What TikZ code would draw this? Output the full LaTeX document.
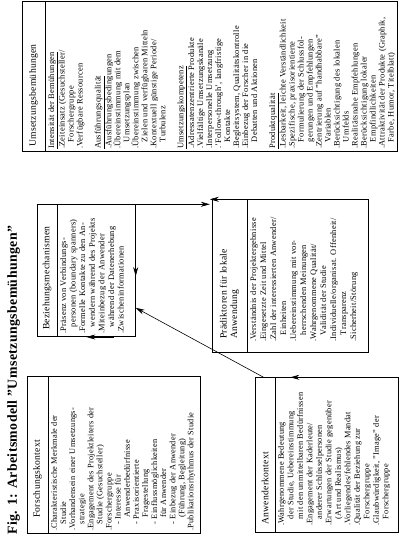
\documentclass[tikz,border=0pt]{standalone}
\usepackage{fontspec}
\setmainfont{Liberation Serif}[LetterSpace=3]
\usetikzlibrary{arrows.meta,calc}
\newcommand{\ind}{\hspace*{0.8em}}
\begin{document}
\begin{tikzpicture}[x=1pt,y=1pt,
  box/.style={draw, line width=0.7pt, anchor=north west, inner sep=0pt, rectangle},
  hdr/.style={font=\fontsize{9.6}{10.5}\selectfont, anchor=west, align=left, inner sep=0pt},
  body/.style={anchor=north west, align=left, inner sep=0pt},
  arr/.style={-{Stealth[length=9pt,width=5pt]}, line width=0.6pt},
  ttl/.style={font=\fontsize{13.8}{16}\selectfont\bfseries, anchor=west, inner sep=0pt}]
\useasboundingbox (0,0) rectangle (407,539);
\begin{scope}[rotate=90, transform shape]
\node[ttl] (title) at (4,-13.5) {Fig. 1: Arbeitsmodell "Umsetzungsbemühungen"};
% Forschungskontext
\node[box, minimum width=157, minimum height=173] (fk) at (5,-27) {};
\node[hdr] (fkh) at (21,-37.5) {Forschungskontext};
\draw[line width=0.7pt] (5,-48) -- (162,-48);
\node[body, font=\fontsize{8.3}{9.1}\selectfont] (fkb) at (8,-51) {%
.Charakteristische Merkmale der\\
\ind Studie\\
.Vorhandensein einer Umsetzungs-\\
\ind strategie\\
.Engagement des Projektleiters der\\
\ind Studie (Gesuchsteller)\\
.Forschergruppe\\
\ind - Interesse für\\
\ind\ind Anwenderbedürfnisse\\
\ind - Praxisorientierte\\
\ind\ind Fragestellung\\
\ind - Einflussmöglichkeiten\\
\ind\ind für Anwender\\
\ind - Einbezug der Anwender\\
\ind\ind (Führung, Begleitung)\\
.Publikationsrhythmus der Studie};
% Beziehungsmechanismen
\node[box, minimum width=132, minimum height=98] (bm) at (202,-37) {};
\node[hdr] (bmh) at (209,-47) {Beziehungsmechanismen};
\draw[line width=0.7pt] (202,-57) -- (334,-57);
\node[body, font=\fontsize{8.4}{9.6}\selectfont] (bmb) at (205,-60) {%
.Präsenz von Verbindungs-\\
\ind personen (boundary spanners)\\
.Formelle Kontakte zu den An-\\
\ind wendern während des Projekts\\
.Miteinbezug der Anwender\\
\ind während der Datenerhebung\\
.Zwischeninformationen};
% Umsetzungsbemuehungen
\node[box, minimum width=150, minimum height=375] (ub) at (387,-22) {};
\node[hdr] (ubh) at (392,-33.5) {Umsetzungsbemühungen};
\draw[line width=0.7pt] (387,-45) -- (537,-45);
\node[body, font=\fontsize{8.4}{9.0}\selectfont] (ubb) at (390,-48) {%
\underline{Intensität der Bemühungen}\\
.Zeiteinsatz (Gesuchsteller/\\
\ind Forschergruppe\\
.Verfügbare Ressourcen\\
\\
\underline{Ausführungsqualität}\\
.Ausführungsbedingungen\\
.Übereinstimmung mit dem\\
\ind Umsetzungsplan\\
.Übereinstimmung zwischen\\
\ind Zielen und verfügbaren Mitteln\\
.Kontextuell günstige Periode/\\
\ind Turbulenz\\
\\
\underline{Umsetzungskompetenz}\\
.Adressatenzentrierte Produkte\\
.Vielfältige Umsetzungskanäle\\
.Interpersonelle Umsetzung\\
.'Follow-through', langfristige\\
\ind Kontakte\\
.Begleitsystem, Qualitätskontrolle\\
.Einbezug der Forscher in die\\
\ind Debatten und Aktionen\\
\\
\underline{Produktqualität}\\
.Lesbarkeit, leichte Verständlichkeit\\
.Spezifische, praxisorientierte\\
\ind Formulierung der Schlussfol-\\
\ind gerungen und Empfehlungen\\
.Zentrierung auf "handhabbare"\\
\ind Variablen\\
.Berücksichtigung des lokalen\\
\ind Umfelds\\
.Realitätsnahe Empfehlungen\\
.Berücksichtigung lokaler\\
\ind Empfindlichkeiten\\
.Attraktivität der Produkte (Graphik,\\
\ind Farbe, Humor, Titelblatt)};
% Praediktoren
\node[box, minimum width=153, minimum height=156] (pr) at (186,-212) {};
\node[hdr] (prh) at (200,-229.5) {Prädiktoren für lokale\\Anwendung};
\draw[line width=0.7pt] (186,-247) -- (339,-247);
\node[body, font=\fontsize{8.4}{10}\selectfont] (prb) at (197,-250) {%
.Verständnis der Projektergebnisse\\
.Eingesetzte Zeit und Mittel\\
.Zahl der interessierten Anwender/\\
\ind Einheiten\\
.Uebereinstimmung mit vor-\\
\ind herrschenden Meinungen\\
.Wahrgenommene Qualität/\\
\ind Validität der Studie\\
.Individuelle/organisat. Offenheit/\\
\ind Transparenz\\
.Sicherheit/Störung};
% Anwenderkontext
\node[box, minimum width=155, minimum height=143] (ak) at (6,-255) {};
\node[hdr] (akh) at (14,-265) {Anwenderkontext};
\draw[line width=0.7pt] (6,-275) -- (161,-275);
\node[body, font=\fontsize{8.3}{9.5}\selectfont] (akb) at (13,-278) {%
.Wahrgenommene Bedeutung\\
\ind der Studie, Uebereinstimmung\\
\ind mit den unmittelbaren Bedürfnissen\\
.Engagement der Kaderleute/\\
\ind anderer Schlüsselpersonen\\
.Erwartungen der Studie gegenüber\\
\ind (Art und Realismus)\\
.Vorliegendes/fehlendes Mandat\\
.Qualität der Beziehung zur\\
\ind Forschergruppe\\
.Glaubwürdigkeit, "Image" der\\
\ind Forschergruppe};
% connectors
\draw[arr] (fk.east -| bm.west) -- (bm.west);
\draw[arr] (bm.east) -- (bm.east |- ub.west);
\coordinate (p1) at ($(pr.north east)!0.12!(pr.south east)$);
\draw[arr] (p1) -- (p1 |- ub.west);
\coordinate (a1) at ($(ak.north east)!0.43!(ak.south east)$);
\draw[arr] (a1) -- (a1 |- pr.west);
\coordinate (a2) at ($(ak.north east)!0.06!(ak.south east)$);
\coordinate (b2) at ($(bm.south west)!0.22!(bm.south east)$);
\draw[arr] (a2) -- (b2);
\draw[arr] (bm.south) -- (bm.south -| pr.north);
\end{scope}
\end{tikzpicture}
\end{document}
